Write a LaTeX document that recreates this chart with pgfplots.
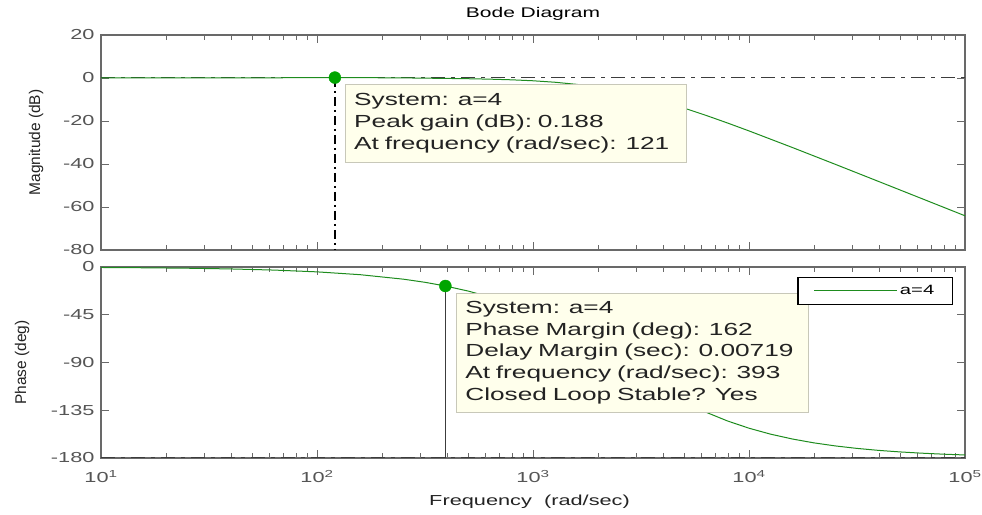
\documentclass[border=0pt]{standalone}
\usepackage{fontspec}
\setmainfont{Liberation Sans}[FakeStretch=1.5]
\newfontfamily\ylabfont{Liberation Sans}
\usepackage{pgfplots}
\pgfplotsset{compat=1.18}
\definecolor{curvegreen}{RGB}{30,140,30}
\definecolor{markgreen}{RGB}{0,165,0}
\definecolor{axisgray}{RGB}{105,105,105}
\definecolor{labgray}{RGB}{85,85,85}
\definecolor{tipfill}{RGB}{255,255,236}
\definecolor{tipborder}{RGB}{200,200,185}
\definecolor{tiptext}{RGB}{35,35,35}
\definecolor{refgray}{RGB}{60,60,60}

\pgfplotstableread{
w mag
10 0
31.6 0.02
63.1 0.10
100 0.17
121 0.188
158.5 0.16
251.2 0.05
398.1 -0.20
501.2 -0.34
631 -0.54
794.3 -0.84
1000 -1.29
1259 -1.96
1585 -2.94
1995 -4.28
2512 -6.06
3162 -8.30
3981 -10.97
5012 -14.01
6310 -17.35
7943 -20.91
10000 -24.61
15849 -32.30
25119 -40.17
39811 -48.12
63096 -56.10
100000 -64.09
}\magtable

\pgfplotstableread{
w ph
10 -0.46
15.85 -0.73
25.12 -1.15
39.81 -1.83
63.1 -2.89
100 -4.58
158.5 -7.25
251.2 -11.48
316.2 -14.42
393 -17.9
501.2 -22.68
631 -28.33
794.3 -35.26
1000 -43.60
1259 -53.46
1585 -64.76
1995 -77.20
2512 -90.27
3162 -103.35
3981 -115.77
5012 -127.00
6310 -136.78
7943 -145.06
10000 -151.93
12589 -157.54
15849 -162.07
19953 -165.72
25119 -168.63
31623 -170.96
39811 -172.82
50119 -174.29
63096 -175.46
79433 -176.40
100000 -177.14
}\phtable

\tikzset{tipbox/.style={draw=tipborder, fill=tipfill, align=left, inner xsep=9pt,
    font=\fontsize{17.5}{21.7}\selectfont, text=tiptext, anchor=north west}}

\begin{document}
\begin{tikzpicture}
\useasboundingbox (0,0) rectangle (982pt,514pt);

% Magnitude
\begin{axis}[
  xmode=log, xmin=10, xmax=100000,
  scale only axis, width=864pt,
  axis line style={draw=axisgray, line width=1.2pt},
  every tick/.style={draw=axisgray, line width=0.9pt},
  major tick length=8pt, minor tick length=5pt,
  tick align=inside,
  xtick={10,100,1000,10000,100000},
  minor xtick={20,30,40,50,60,70,80,90,200,300,400,500,600,700,800,900,2000,3000,4000,5000,6000,7000,8000,9000,20000,30000,40000,50000,60000,70000,80000,90000},
  ticklabel style={font=\fontsize{14.5}{16}\selectfont, text=labgray},
  yticklabel style={xshift=-3pt},
  ylabel style={font=\ylabfont\fontsize{15.5}{17}\selectfont, text=tiptext, anchor=center},
  at={(101pt,264pt)}, anchor=south west, height=215pt,
  ymin=-80, ymax=20, ytick={-80,-60,-40,-20,0,20},
  yticklabels={-80,-60,-40,-20,0,20},
  xticklabels={},
  ylabel={Magnitude (dB)},
  ylabel style={at={(axis description cs:-0.0752,0.5)}},
  title={Bode Diagram},
  title style={at={(axis description cs:0.5,1)}, anchor=base, yshift=11pt,
    font=\fontsize{14}{16}\selectfont, text=black},
]
\addplot[refgray, line width=1pt, dash pattern=on 14pt off 6pt on 4pt off 6pt, forget plot] coordinates {(10,0) (100000,0)};
\addplot[black, line width=1.3pt, dash pattern=on 9pt off 4pt on 2pt off 4pt, forget plot] coordinates {(121,0) (121,-80)};
\addplot[curvegreen, line width=1pt, forget plot] table[x=w, y=mag] {\magtable};
\addplot[only marks, mark=*, mark size=6pt, markgreen, mark options={draw=markgreen, fill=markgreen}, forget plot] coordinates {(121,0.188)};
\node[tipbox, minimum width=341pt, text width=323pt, minimum height=78pt] at (rel axis cs:0.2824,0.772)
  {\mbox{System: a=4}\\\mbox{Peak gain (dB): 0.188}\\\mbox{At frequency (rad/sec): 121}};
\end{axis}

% Phase
\begin{axis}[
  xmode=log, xmin=10, xmax=100000,
  scale only axis, width=864pt,
  axis line style={draw=axisgray, line width=1.2pt},
  every tick/.style={draw=axisgray, line width=0.9pt},
  major tick length=8pt, minor tick length=5pt,
  tick align=inside,
  xtick={10,100,1000,10000,100000},
  minor xtick={20,30,40,50,60,70,80,90,200,300,400,500,600,700,800,900,2000,3000,4000,5000,6000,7000,8000,9000,20000,30000,40000,50000,60000,70000,80000,90000},
  ticklabel style={font=\fontsize{14.5}{16}\selectfont, text=labgray},
  yticklabel style={xshift=-3pt},
  xticklabel style={yshift=-9pt},
  ylabel style={font=\ylabfont\fontsize{15.5}{17}\selectfont, text=tiptext, anchor=center},
  at={(101pt,56pt)}, anchor=south west, height=191pt,
  ymin=-180, ymax=0, ytick={-180,-135,-90,-45,0},
  yticklabels={-180,-135,-90,-45,0},
  xticklabels={10\textsuperscript{1},10\textsuperscript{2},10\textsuperscript{3},10\textsuperscript{4},10\textsuperscript{5}},
  ylabel={Phase (deg)},
  ylabel style={at={(axis description cs:-0.0914,0.5)}},
  xlabel={Frequency\ \ (rad/sec)},
  xlabel style={at={(axis description cs:0.496,-0.23)}, anchor=center,
    font=\fontsize{14.5}{16}\selectfont, text=tiptext},
  legend style={at={(rel axis cs:0.986,0.948)}, anchor=north east, draw=black,
    line width=1.2pt, fill=white, font=\fontsize{13.5}{15}\selectfont,
    inner xsep=16pt, inner ysep=6pt, cells={anchor=west}},
  legend image code/.code={\draw[#1, line width=1pt] (0pt,0pt) -- (83pt,0pt);},
]
\addplot[curvegreen, line width=1pt] table[x=w, y=ph] {\phtable};
\addlegendentry{a=4}
\addplot[refgray, line width=1pt, dash pattern=on 14pt off 6pt on 4pt off 6pt, forget plot] coordinates {(10,-180) (100000,-180)};
\addplot[refgray, line width=1.3pt, forget plot] coordinates {(393,-17.9) (393,-180)};
\addplot[only marks, mark=*, mark size=6pt, markgreen, mark options={draw=markgreen, fill=markgreen}, forget plot] coordinates {(393,-17.9)};
\node[tipbox, minimum width=352pt, text width=334pt, minimum height=119pt] at (rel axis cs:0.411,0.864)
  {\mbox{System: a=4}\\\mbox{Phase Margin (deg): 162}\\\mbox{Delay Margin (sec): 0.00719}\\\mbox{At frequency (rad/sec): 393}\\\mbox{Closed Loop Stable? Yes}};
\end{axis}
\end{tikzpicture}
\end{document}
